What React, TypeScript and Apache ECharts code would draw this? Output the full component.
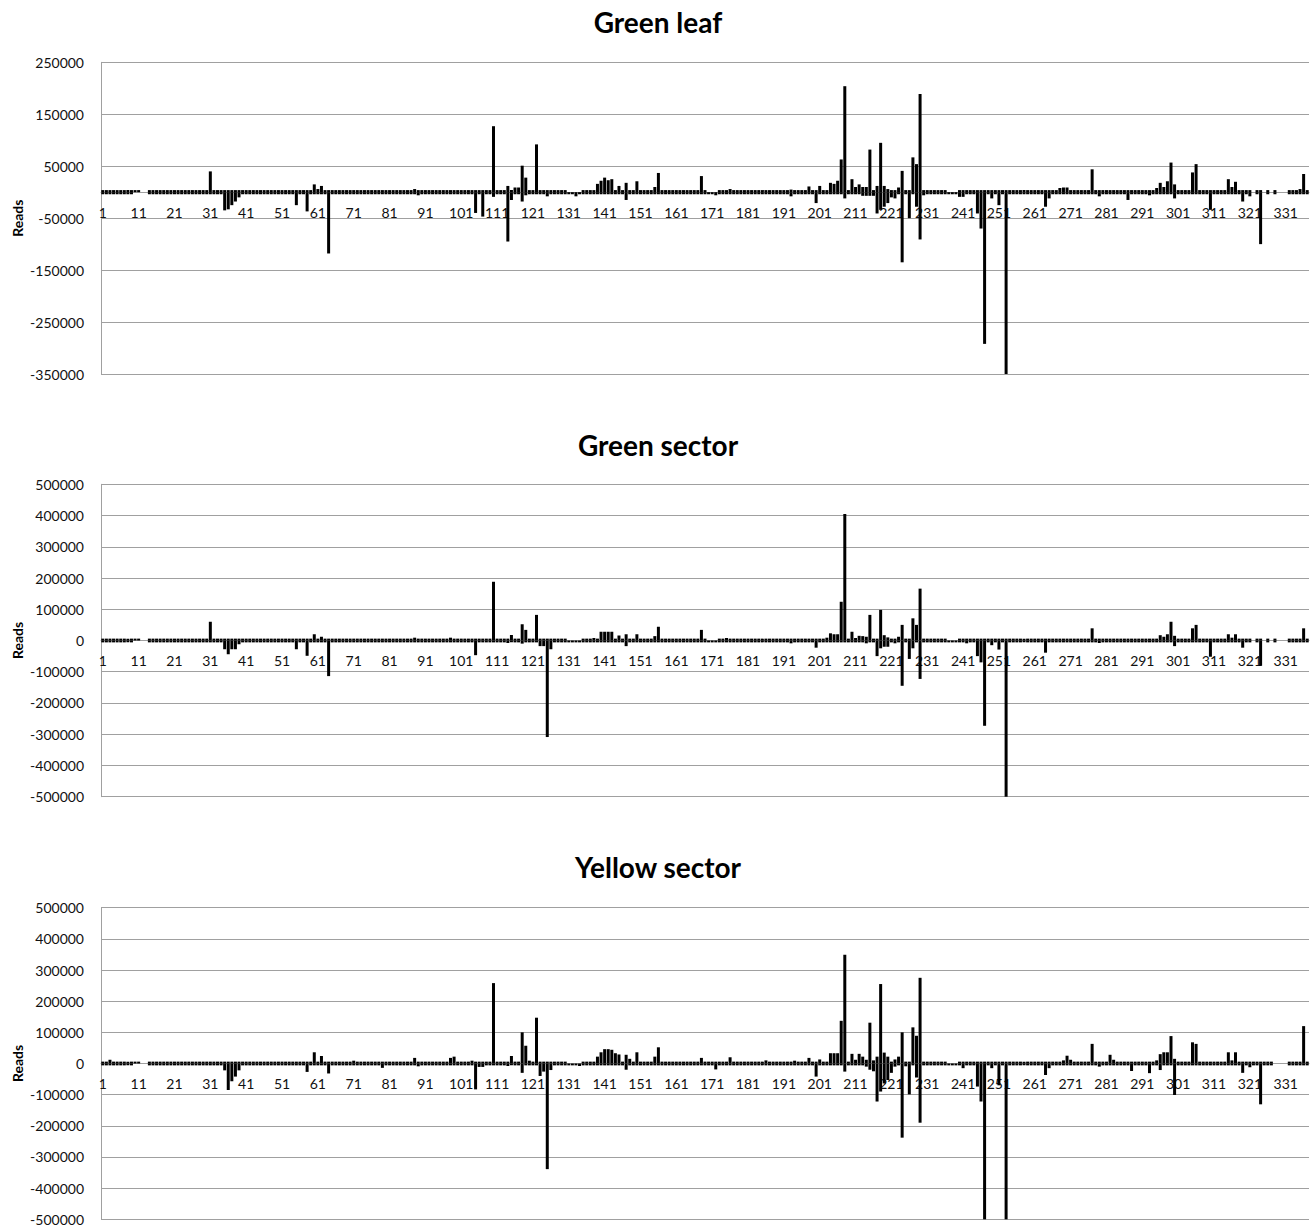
import { useEffect, useRef } from "react";
import * as echarts from "echarts";

// Nucleotide positions 1..337 (category axis)
const positionLabels: string[] = Array.from({ length: 337 }, (_, i) => String(i + 1));

const panelTitles = ["Green leaf", "Green sector", "Yellow sector"];
const yMinValues = [-350000, -500000, -500000];
const yMaxValues = [250000, 500000, 500000];
const yTickStep = 100000;

// ---------- Green leaf ----------
const leafForward = [
  4000,4000,4000,4000,4000,4000,4000,4000,4000,4000, // 1-10
  4000,0,0,4000,4000,4000,4000,4000,4000,4000, // 11-20
  4000,4000,4000,4000,4000,4000,4000,4000,4000,4000, // 21-30
  40000,4000,4000,4000,4000,4000,4000,4000,4000,4000, // 31-40
  4000,4000,4000,4000,4000,4000,4000,4000,4000,4000, // 41-50
  4000,4000,4000,4000,4000,4000,4000,4000,4000,15000, // 51-60
  6000,12000,4000,4000,4000,4000,4000,4000,4000,4000, // 61-70
  4000,4000,4000,4000,4000,4000,4000,4000,4000,4000, // 71-80
  4000,4000,4000,4000,4000,4000,4000,6000,4000,4000, // 81-90
  4000,4000,4000,4000,4000,4000,4000,4000,4000,4000, // 91-100
  4000,4000,4000,4000,4000,4000,4000,4000,4000,127000, // 101-110
  4000,4000,4000,12000,4000,9000,9000,51000,28000,4000, // 111-120
  4000,92000,4000,4000,4000,4000,4000,4000,4000,4000, // 121-130
  0,0,0,0,4000,4000,4000,4000,16000,22000, // 131-140
  28000,23000,25000,4000,12000,4000,18000,4000,4000,21000, // 141-150
  4000,4000,4000,4000,10000,37000,4000,4000,4000,4000, // 151-160
  4000,4000,4000,4000,4000,4000,4000,31000,4000,0, // 161-170
  0,0,4000,4000,4000,6000,4000,4000,4000,4000, // 171-180
  4000,4000,4000,4000,4000,4000,4000,4000,4000,4000, // 181-190
  4000,4000,5000,4000,4000,4000,4000,11000,4000,4000, // 191-200
  12000,4000,4000,18000,16000,22000,63000,204000,4000,25000, // 201-210
  10000,15000,10000,10000,82000,4000,12000,95000,12000,6000, // 211-220
  4000,4000,9000,41000,4000,4000,67000,54000,189000,4000, // 221-230
  4000,4000,4000,4000,4000,4000,0,0,0,4000, // 231-240
  4000,4000,4000,4000,4000,4000,4000,4000,4000,4000, // 241-250
  4000,4000,4000,4000,4000,4000,4000,4000,4000,4000, // 251-260
  4000,4000,4000,4000,4000,4000,4000,8000,9000,9000, // 261-270
  4000,4000,4000,4000,4000,4000,44000,4000,4000,4000, // 271-280
  4000,4000,4000,4000,4000,4000,4000,4000,4000,4000, // 281-290
  4000,4000,4000,4000,8000,18000,10000,21000,57000,15000, // 291-300
  4000,4000,4000,4000,38000,54000,4000,4000,4000,4000, // 301-310
  4000,4000,4000,4000,25000,10000,20000,4000,4000,4000, // 311-320
  4000,0,4000,4000,0,4000,0,4000,0,0, // 321-330
  0,4000,4000,4000,6000,35000,4000, // 331-337
];
const leafReverse = [
  -4000,-4000,-4000,-4000,-4000,-4000,-4000,-4000,-4000,0, // 1-10
  0,0,0,-4000,-4000,-4000,-4000,-4000,-4000,-4000, // 11-20
  -4000,-4000,-4000,-4000,-4000,-4000,-4000,-4000,-4000,-4000, // 21-30
  -4000,-4000,-4000,-4000,-35000,-33000,-25000,-18000,-10000,-4000, // 31-40
  -4000,-4000,-4000,-4000,-4000,-4000,-4000,-4000,-4000,-4000, // 41-50
  -4000,-4000,-4000,-4000,-25000,-4000,-4000,-37000,-4000,-4000, // 51-60
  -4000,-4000,-4000,-118000,-4000,-4000,-4000,-4000,-4000,-4000, // 61-70
  -4000,-4000,-4000,-4000,-4000,-4000,-4000,-4000,-4000,-4000, // 71-80
  -4000,-4000,-4000,-4000,-4000,-4000,-4000,-4000,-6000,-4000, // 81-90
  -4000,-4000,-4000,-4000,-4000,-4000,-4000,-4000,-4000,-4000, // 91-100
  -4000,-4000,-4000,-4000,-40000,-4000,-47000,-4000,-4000,-9000, // 101-110
  -4000,-4000,-4000,-95000,-15000,-4000,-4000,-18000,-6000,-4000, // 111-120
  -4000,-4000,-4000,-4000,-8000,-4000,-4000,-4000,-4000,-4000, // 121-130
  -4000,-4000,-8000,-4000,-4000,-4000,-4000,-4000,-4000,-4000, // 131-140
  -4000,-4000,-4000,-4000,-4000,-4000,-15000,-4000,-4000,-4000, // 141-150
  -4000,-4000,-4000,-4000,-4000,-4000,-4000,-4000,-4000,-4000, // 151-160
  -4000,-4000,-4000,-4000,-4000,-4000,-4000,-4000,-4000,-4000, // 161-170
  -4000,-6000,-4000,-4000,-4000,-4000,-4000,-4000,-4000,-4000, // 171-180
  -4000,-4000,-4000,-4000,-4000,-4000,-4000,-4000,-4000,-4000, // 181-190
  -4000,-4000,-8000,-4000,-4000,-4000,-4000,-4000,-4000,-21000, // 191-200
  -4000,-4000,-4000,-4000,-4000,-4000,-4000,-12000,-4000,-4000, // 201-210
  -4000,-4000,-7000,-7000,-7000,-7000,-41000,-34000,-28000,-21000, // 211-220
  -10000,-12000,-4000,-135000,-4000,-50000,-4000,-28000,-91000,-6000, // 221-230
  -4000,-4000,-4000,-4000,-4000,-4000,-4000,-4000,-4000,-9000, // 231-240
  -9000,-4000,-4000,-4000,-41000,-70000,-292000,-4000,-12000,-4000, // 241-250
  -25000,-4000,-350000,-4000,-4000,-4000,-4000,-4000,-4000,-4000, // 251-260
  -4000,-4000,-4000,-28000,-12000,-4000,-4000,-4000,-4000,-4000, // 261-270
  -4000,-4000,-4000,-4000,-4000,-4000,-4000,-4000,-8000,-4000, // 271-280
  -4000,-4000,-4000,-4000,-4000,-4000,-15000,-4000,-4000,-4000, // 281-290
  -4000,-4000,-6000,-4000,-4000,-4000,-4000,-4000,-4000,-12000, // 291-300
  -4000,-4000,-4000,-4000,-4000,-4000,-4000,-4000,-4000,-34000, // 301-310
  -4000,-4000,-4000,-4000,-4000,-4000,-4000,-4000,-18000,-4000, // 311-320
  -8000,0,-4000,-100000,0,-4000,0,-4000,0,0, // 321-330
  0,-4000,-4000,-4000,-4000,-4000,-4000, // 331-337
];

// ---------- Green sector ----------
const greenSectorForward = [
  6000,6000,6000,6000,6000,6000,6000,6000,6000,6000, // 1-10
  6000,0,0,6000,6000,6000,6000,6000,6000,6000, // 11-20
  6000,6000,6000,6000,6000,6000,6000,6000,6000,6000, // 21-30
  60000,6000,6000,6000,6000,6000,6000,6000,6000,6000, // 31-40
  6000,6000,6000,6000,6000,6000,6000,6000,6000,6000, // 41-50
  6000,6000,6000,6000,6000,6000,6000,6000,6000,20000, // 51-60
  6000,12000,6000,6000,6000,6000,6000,6000,6000,6000, // 61-70
  6000,6000,6000,6000,6000,6000,6000,6000,6000,6000, // 71-80
  6000,6000,6000,6000,6000,6000,6000,9000,6000,6000, // 81-90
  6000,6000,6000,6000,6000,6000,6000,9000,6000,6000, // 91-100
  6000,6000,6000,6000,6000,6000,6000,6000,6000,188000, // 101-110
  6000,6000,6000,6000,18000,6000,6000,52000,34000,6000, // 111-120
  6000,82000,6000,6000,6000,6000,6000,6000,6000,6000, // 121-130
  0,0,0,0,6000,6000,6000,8000,6000,28000, // 131-140
  28000,28000,28000,6000,16000,6000,20000,6000,6000,20000, // 141-150
  6000,6000,6000,6000,14000,44000,6000,6000,6000,6000, // 151-160
  6000,6000,6000,6000,6000,6000,6000,34000,6000,0, // 161-170
  0,0,6000,6000,8000,6000,6000,6000,6000,6000, // 171-180
  6000,6000,6000,6000,6000,6000,6000,6000,6000,6000, // 181-190
  6000,6000,6000,6000,6000,6000,6000,6000,6000,6000, // 191-200
  6000,6000,9000,23000,20000,20000,124000,405000,6000,28000, // 201-210
  8000,15000,14000,12000,82000,6000,6000,98000,17000,10000, // 211-220
  6000,6000,12000,50000,6000,6000,71000,50000,166000,6000, // 221-230
  6000,6000,6000,6000,6000,6000,0,0,0,6000, // 231-240
  6000,6000,6000,6000,6000,6000,6000,6000,6000,6000, // 241-250
  6000,6000,6000,6000,6000,6000,6000,6000,6000,6000, // 251-260
  6000,6000,6000,6000,6000,6000,6000,6000,6000,6000, // 261-270
  6000,6000,6000,6000,6000,6000,39000,6000,6000,6000, // 271-280
  6000,6000,6000,6000,6000,6000,6000,6000,6000,6000, // 281-290
  6000,6000,6000,6000,6000,17000,12000,20000,60000,15000, // 291-300
  6000,6000,6000,6000,39000,50000,6000,6000,6000,6000, // 301-310
  6000,6000,6000,6000,20000,9000,20000,6000,6000,6000, // 311-320
  6000,0,6000,6000,0,6000,0,6000,0,0, // 321-330
  0,6000,6000,6000,6000,39000,6000, // 331-337
];
const greenSectorReverse = [
  -6000,-6000,-6000,-6000,-6000,-6000,-6000,-6000,-6000,0, // 1-10
  0,0,0,-6000,-6000,-6000,-6000,-6000,-6000,-6000, // 11-20
  -6000,-6000,-6000,-6000,-6000,-6000,-6000,-6000,-6000,-6000, // 21-30
  -6000,-6000,-6000,-6000,-28000,-44000,-28000,-28000,-12000,-6000, // 31-40
  -6000,-6000,-6000,-6000,-6000,-6000,-6000,-6000,-6000,-6000, // 41-50
  -6000,-6000,-6000,-6000,-28000,-6000,-6000,-49000,-6000,-6000, // 51-60
  -6000,-6000,-6000,-114000,-6000,-6000,-6000,-6000,-6000,-6000, // 61-70
  -6000,-6000,-6000,-6000,-6000,-6000,-6000,-6000,-6000,-6000, // 71-80
  -6000,-6000,-6000,-6000,-6000,-6000,-6000,-6000,-6000,-6000, // 81-90
  -6000,-6000,-6000,-6000,-6000,-6000,-6000,-6000,-6000,-6000, // 91-100
  -6000,-6000,-6000,-6000,-47000,-6000,-6000,-6000,-6000,-6000, // 101-110
  -6000,-6000,-6000,-8000,-6000,-6000,-6000,-10000,-6000,-6000, // 111-120
  -6000,-6000,-18000,-18000,-309000,-28000,-6000,-6000,-6000,-6000, // 121-130
  -6000,-6000,-6000,-6000,-6000,-6000,-6000,-6000,-6000,-6000, // 131-140
  -6000,-6000,-6000,-6000,-6000,-6000,-18000,-6000,-6000,-6000, // 141-150
  -6000,-6000,-6000,-6000,-6000,-6000,-6000,-6000,-6000,-6000, // 151-160
  -6000,-6000,-6000,-6000,-6000,-6000,-6000,-6000,-6000,-6000, // 161-170
  -6000,-6000,-6000,-6000,-6000,-6000,-6000,-6000,-6000,-6000, // 171-180
  -6000,-6000,-6000,-6000,-6000,-6000,-6000,-6000,-6000,-6000, // 181-190
  -6000,-6000,-9000,-6000,-6000,-6000,-6000,-6000,-6000,-23000, // 191-200
  -6000,-6000,-6000,-6000,-6000,-6000,-6000,-6000,-6000,-6000, // 201-210
  -6000,-6000,-6000,-9000,-6000,-6000,-50000,-25000,-20000,-20000, // 211-220
  -6000,-9000,-6000,-145000,-6000,-59000,-25000,-6000,-123000,-6000, // 221-230
  -6000,-6000,-6000,-6000,-6000,-6000,-6000,-6000,-6000,-6000, // 231-240
  -6000,-9000,-6000,-6000,-50000,-70000,-273000,-6000,-15000,-6000, // 241-250
  -29000,-6000,-500000,-6000,-6000,-6000,-6000,-6000,-6000,-6000, // 251-260
  -6000,-6000,-6000,-39000,-6000,-6000,-6000,-6000,-6000,-6000, // 261-270
  -6000,-6000,-6000,-6000,-6000,-6000,-6000,-6000,-8000,-6000, // 271-280
  -6000,-6000,-6000,-6000,-6000,-6000,-6000,-6000,-6000,-6000, // 281-290
  -6000,-6000,-6000,-6000,-6000,-6000,-6000,-6000,-6000,-18000, // 291-300
  -6000,-6000,-6000,-6000,-6000,-6000,-6000,-6000,-6000,-52000, // 301-310
  -6000,-6000,-6000,-6000,-6000,-6000,-6000,-6000,-23000,-6000, // 311-320
  -6000,0,-6000,-81000,0,-6000,0,-6000,0,0, // 321-330
  0,-6000,-6000,-6000,-6000,-6000,-6000, // 331-337
];

// ---------- Yellow sector ----------
const yellowSectorForward = [
  6000,6000,12000,6000,6000,6000,6000,6000,6000,6000, // 1-10
  6000,0,0,6000,6000,6000,6000,6000,6000,6000, // 11-20
  6000,6000,6000,6000,6000,6000,6000,6000,6000,6000, // 21-30
  6000,6000,6000,6000,6000,6000,6000,6000,6000,6000, // 31-40
  6000,6000,6000,6000,6000,6000,6000,6000,6000,6000, // 41-50
  6000,6000,6000,6000,6000,6000,6000,6000,6000,36000, // 51-60
  6000,24000,6000,6000,6000,6000,6000,6000,6000,6000, // 61-70
  9000,6000,6000,6000,6000,6000,6000,6000,6000,6000, // 71-80
  6000,6000,6000,6000,6000,6000,6000,18000,6000,6000, // 81-90
  6000,6000,6000,6000,6000,6000,6000,18000,22000,6000, // 91-100
  6000,6000,6000,9000,6000,6000,6000,6000,6000,258000, // 101-110
  6000,6000,6000,6000,24000,6000,6000,100000,57000,9000, // 111-120
  6000,147000,6000,6000,6000,6000,6000,6000,6000,6000, // 121-130
  0,0,0,0,6000,6000,6000,6000,22000,36000, // 131-140
  46000,46000,44000,33000,29000,6000,28000,15000,6000,36000, // 141-150
  6000,6000,6000,6000,22000,52000,6000,6000,6000,6000, // 151-160
  6000,6000,6000,6000,6000,6000,6000,18000,6000,6000, // 161-170
  6000,6000,6000,6000,6000,20000,6000,6000,6000,6000, // 171-180
  6000,6000,6000,6000,6000,10000,6000,6000,6000,6000, // 181-190
  6000,6000,6000,9000,6000,6000,6000,18000,6000,6000, // 191-200
  13000,6000,6000,33000,33000,33000,137000,349000,6000,31000, // 201-210
  12000,31000,22000,12000,131000,10000,22000,255000,35000,22000, // 211-220
  6000,13000,22000,100000,6000,6000,116000,89000,275000,6000, // 221-230
  6000,6000,6000,6000,6000,6000,0,0,0,6000, // 231-240
  6000,6000,6000,6000,6000,6000,6000,6000,6000,6000, // 241-250
  6000,6000,6000,6000,6000,6000,6000,6000,6000,6000, // 251-260
  6000,6000,6000,6000,6000,6000,6000,6000,10000,25000, // 261-270
  12000,6000,6000,6000,6000,6000,63000,6000,6000,6000, // 271-280
  6000,28000,12000,6000,6000,6000,6000,6000,6000,6000, // 281-290
  6000,6000,6000,6000,10000,30000,36000,36000,88000,15000, // 291-300
  6000,6000,6000,6000,68000,63000,6000,6000,6000,6000, // 301-310
  6000,6000,6000,6000,36000,10000,36000,6000,6000,6000, // 311-320
  6000,6000,6000,6000,6000,6000,6000,0,0,0, // 321-330
  0,6000,6000,6000,6000,120000,6000, // 331-337
];
const yellowSectorReverse = [
  -6000,-6000,-6000,-6000,-6000,-6000,-6000,-6000,-6000,0, // 1-10
  0,0,0,-6000,-6000,-6000,-6000,-6000,-6000,-6000, // 11-20
  -6000,-6000,-6000,-6000,-6000,-6000,-6000,-6000,-6000,-6000, // 21-30
  -6000,-6000,-6000,-6000,-22000,-85000,-57000,-42000,-22000,-6000, // 31-40
  -6000,-6000,-6000,-6000,-6000,-6000,-6000,-6000,-6000,-6000, // 41-50
  -6000,-6000,-6000,-6000,-6000,-6000,-6000,-27000,-6000,-6000, // 51-60
  -6000,-6000,-6000,-32000,-6000,-6000,-6000,-6000,-6000,-6000, // 61-70
  -6000,-6000,-6000,-6000,-6000,-6000,-6000,-6000,-14000,-6000, // 71-80
  -6000,-6000,-6000,-6000,-6000,-6000,-6000,-6000,-9000,-6000, // 81-90
  -6000,-6000,-6000,-6000,-6000,-6000,-6000,-6000,-6000,-6000, // 91-100
  -6000,-6000,-6000,-6000,-83000,-11000,-11000,-6000,-6000,-6000, // 101-110
  -6000,-6000,-6000,-8000,-6000,-6000,-6000,-30000,-6000,-6000, // 111-120
  -6000,-6000,-40000,-26000,-339000,-21000,-6000,-6000,-6000,-6000, // 121-130
  -6000,-6000,-6000,-8000,-6000,-6000,-6000,-6000,-6000,-6000, // 131-140
  -6000,-6000,-6000,-6000,-6000,-6000,-20000,-6000,-6000,-6000, // 141-150
  -6000,-6000,-6000,-6000,-6000,-6000,-6000,-6000,-6000,-6000, // 151-160
  -6000,-6000,-6000,-6000,-6000,-6000,-6000,-6000,-6000,-6000, // 161-170
  -6000,-19000,-6000,-6000,-6000,-6000,-6000,-6000,-6000,-6000, // 171-180
  -6000,-6000,-6000,-6000,-6000,-6000,-6000,-6000,-6000,-6000, // 181-190
  -6000,-6000,-6000,-6000,-6000,-6000,-6000,-6000,-6000,-42000, // 191-200
  -6000,-6000,-6000,-6000,-6000,-6000,-6000,-26000,-6000,-6000, // 201-210
  -6000,-6000,-6000,-10000,-20000,-25000,-122000,-90000,-64000,-53000, // 211-220
  -30000,-10000,-6000,-238000,-9000,-99000,-6000,-45000,-190000,-6000, // 221-230
  -6000,-6000,-6000,-6000,-6000,-6000,-6000,-6000,-6000,-6000, // 231-240
  -15000,-6000,-6000,-6000,-74000,-122000,-500000,-6000,-15000,-6000, // 241-250
  -70000,-6000,-500000,-6000,-6000,-6000,-6000,-6000,-6000,-6000, // 251-260
  -6000,-6000,-6000,-37000,-15000,-6000,-6000,-6000,-6000,-6000, // 261-270
  -6000,-6000,-6000,-6000,-6000,-6000,-6000,-6000,-10000,-6000, // 271-280
  -6000,-6000,-6000,-6000,-6000,-6000,-6000,-24000,-6000,-6000, // 281-290
  -6000,-6000,-31000,-6000,-6000,-21000,-6000,-6000,-6000,-101000, // 291-300
  -6000,-6000,-6000,-6000,-6000,-6000,-6000,-6000,-6000,-6000, // 301-310
  -6000,-6000,-6000,-6000,-6000,-6000,-6000,-6000,-30000,-6000, // 311-320
  -12000,-6000,-6000,-131000,-6000,-6000,-6000,0,0,0, // 321-330
  0,-6000,-6000,-6000,-6000,-6000,-6000, // 331-337
];

const forwardSeries = [leafForward, greenSectorForward, yellowSectorForward];
const reverseSeries = [leafReverse, greenSectorReverse, yellowSectorReverse];

// Layout (page pixels)
const gridTops = [62.3, 484.3, 907.7];
const gridHeights = [311.7, 312.4, 311.6];
const titleTops = [5.5, 429, 850.5];
const FONT = "Lato, 'Open Sans', sans-serif";
const GRID_COLOR = "#a0a0a0";

export default function App() {
  const ref = useRef<HTMLDivElement>(null);

  useEffect(() => {
    if (!ref.current) return;
    const chart = echarts.init(ref.current, undefined, { renderer: "svg" });

    const idx = [0, 1, 2];
    // distance (px) from the bottom of each grid up to the value 0
    const zeroOffsets = idx.map(
      (i) => (gridHeights[i] * (0 - yMinValues[i])) / (yMaxValues[i] - yMinValues[i])
    );

    const option: any = {
      animation: false,
      backgroundColor: "#ffffff",
      title: idx.map((i) => ({
        text: panelTitles[i],
        left: "center",
        top: titleTops[i],
        padding: 0,
        textStyle: {
          fontFamily: FONT,
          fontSize: 28,
          fontWeight: "bold",
          color: "#000",
          lineHeight: 32,
        },
      })),
      grid: idx.map((i) => ({
        left: 101,
        top: gridTops[i],
        width: 1208,
        height: gridHeights[i],
        containLabel: false,
        outerBoundsMode: "none",
      })),
      xAxis: idx.map((i) => ({
        type: "category",
        gridIndex: i,
        data: positionLabels,
        boundaryGap: true,
        position: "bottom",
        offset: -zeroOffsets[i],
        axisLine: { show: true, onZero: false, lineStyle: { color: GRID_COLOR, width: 1 } },
        axisTick: { show: false },
        splitLine: { show: false },
        axisLabel: {
          interval: 9,
          fontFamily: FONT,
          fontSize: 14,
          color: "#111",
          margin: 13,
          hideOverlap: false,
        },
      })),
      yAxis: idx.map((i) => ({
        type: "value",
        gridIndex: i,
        min: yMinValues[i],
        max: yMaxValues[i],
        interval: yTickStep,
        name: "Reads",
        nameLocation: "middle",
        nameRotate: 90,
        nameGap: 76,
        nameMoveOverlap: false,
        nameTextStyle: {
          fontFamily: FONT,
          fontSize: 14,
          fontWeight: "bold",
          color: "#000",
          lineHeight: 16,
        },
        axisLine: { show: true, lineStyle: { color: GRID_COLOR, width: 1 } },
        axisTick: { show: false },
        splitLine: { show: true, lineStyle: { color: GRID_COLOR, width: 1 } },
        axisLabel: {
          fontFamily: FONT,
          fontSize: 14,
          color: "#111",
          margin: 17,
          formatter: (v: number) => String(v),
        },
      })),
      series: idx.flatMap((i) => [
        {
          name: panelTitles[i] + " forward",
          type: "bar",
          xAxisIndex: i,
          yAxisIndex: i,
          data: forwardSeries[i],
          barWidth: 3,
          barGap: "-100%",
          itemStyle: { color: "#000" },
          silent: true,
        },
        {
          name: panelTitles[i] + " reverse",
          type: "bar",
          xAxisIndex: i,
          yAxisIndex: i,
          data: reverseSeries[i],
          barWidth: 3,
          barGap: "-100%",
          itemStyle: { color: "#000" },
          silent: true,
        },
      ]),
    };

    chart.setOption(option);
    return () => chart.dispose();
  }, []);

  return (
    <div
      ref={ref}
      style={{ position: "absolute", left: 0, top: 0, width: 1316, height: 1227, background: "#fff" }}
    />
  );
}
